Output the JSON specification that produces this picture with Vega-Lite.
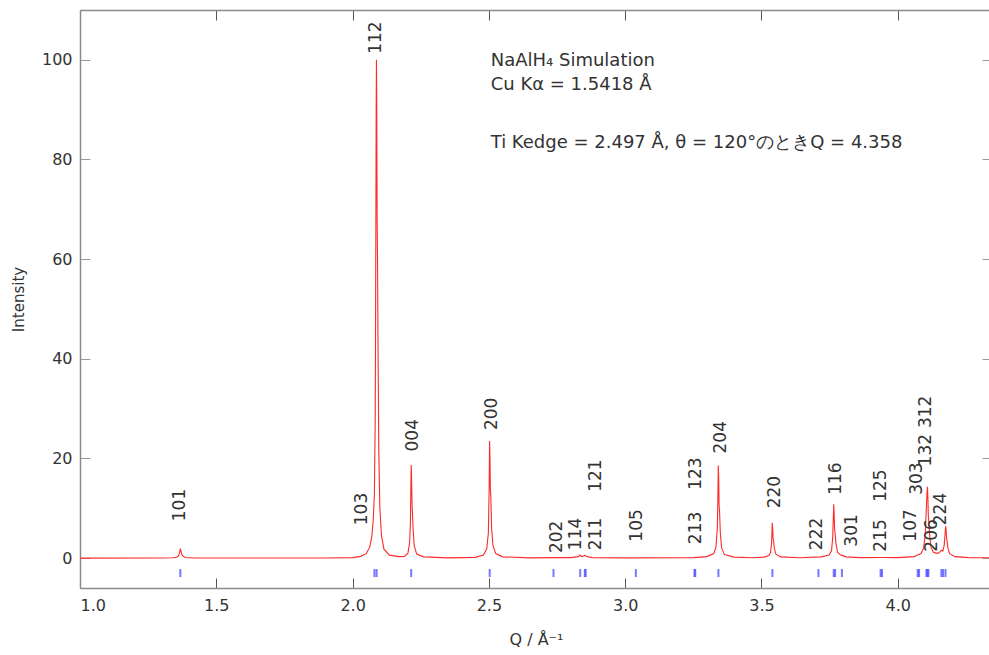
{
  "$schema": "https://vega.github.io/schema/vega-lite/v6.json",
  "width": 912,
  "height": 578,
  "autosize": "none",
  "padding": {"left": 80, "top": 10, "right": 0, "bottom": 67},
  "background": "white",
  "config": {
    "view": {"stroke": null},
    "font": "DejaVu Sans",
    "axis": {
      "grid": false,
      "domainColor": "#8a8a8a",
      "domainWidth": 1.5,
      "tickColor": "#555",
      "tickWidth": 1,
      "tickSize": -10,
      "labelFont": "DejaVu Sans",
      "labelFontSize": 16,
      "labelColor": "#333",
      "titleFont": "DejaVu Sans",
      "titleFontWeight": "normal",
      "titleFontSize": 15,
      "titleColor": "#333"
    }
  },
  "datasets": {
    "profile": [
      {"q":1.0,"i":0},{"q":1.30,"i":0.02},{"q":1.34,"i":0.06},{"q":1.355,"i":0.18},{"q":1.362,"i":0.5},{"q":1.366,"i":1.2},{"q":1.368,"i":1.9},{"q":1.370,"i":1.5},{"q":1.373,"i":0.8},{"q":1.378,"i":0.35},{"q":1.388,"i":0.12},{"q":1.42,"i":0.03},{"q":1.9,"i":0.02},
      {"q":2.00,"i":0.1},{"q":2.03,"i":0.35},{"q":2.05,"i":0.9},{"q":2.063,"i":2.2},{"q":2.071,"i":4.5},{"q":2.076,"i":8},{"q":2.080,"i":13},{"q":2.083,"i":28},{"q":2.085,"i":60},{"q":2.0865,"i":90},{"q":2.0875,"i":100},{"q":2.0885,"i":92},{"q":2.090,"i":68},{"q":2.0915,"i":60},{"q":2.093,"i":45},{"q":2.096,"i":22},{"q":2.100,"i":10},{"q":2.106,"i":4.5},{"q":2.115,"i":1.8},{"q":2.135,"i":0.6},{"q":2.17,"i":0.3},
      {"q":2.19,"i":0.35},{"q":2.203,"i":1.0},{"q":2.209,"i":3},{"q":2.212,"i":7},{"q":2.214,"i":15},{"q":2.215,"i":18.7},{"q":2.216,"i":17},{"q":2.218,"i":11},{"q":2.2195,"i":9},{"q":2.222,"i":6},{"q":2.226,"i":2.5},{"q":2.235,"i":0.8},{"q":2.26,"i":0.25},{"q":2.35,"i":0.05},
      {"q":2.45,"i":0.15},{"q":2.48,"i":0.6},{"q":2.492,"i":1.8},{"q":2.498,"i":5},{"q":2.501,"i":14},{"q":2.5025,"i":23.5},{"q":2.504,"i":20},{"q":2.5055,"i":13.5},{"q":2.507,"i":12.6},{"q":2.510,"i":6},{"q":2.515,"i":2.5},{"q":2.525,"i":0.9},{"q":2.55,"i":0.25},{"q":2.65,"i":0.05},
      {"q":2.735,"i":0.1},{"q":2.80,"i":0.1},{"q":2.828,"i":0.3},{"q":2.834,"i":0.6},{"q":2.840,"i":0.3},{"q":2.847,"i":0.4},{"q":2.852,"i":0.6},{"q":2.858,"i":0.3},{"q":2.88,"i":0.1},{"q":3.0,"i":0.05},{"q":3.25,"i":0.1},
      {"q":3.30,"i":0.3},{"q":3.325,"i":0.9},{"q":3.333,"i":2.2},{"q":3.338,"i":6},{"q":3.340,"i":12},{"q":3.3415,"i":18.6},{"q":3.343,"i":16},{"q":3.3445,"i":10.5},{"q":3.346,"i":9.6},{"q":3.349,"i":5},{"q":3.354,"i":2},{"q":3.364,"i":0.7},{"q":3.40,"i":0.2},{"q":3.47,"i":0.08},
      {"q":3.51,"i":0.2},{"q":3.527,"i":0.5},{"q":3.533,"i":1.1},{"q":3.537,"i":3},{"q":3.5395,"i":7.1},{"q":3.541,"i":6},{"q":3.5425,"i":3.8},{"q":3.544,"i":3.6},{"q":3.547,"i":2},{"q":3.553,"i":0.8},{"q":3.57,"i":0.25},{"q":3.64,"i":0.08},
      {"q":3.72,"i":0.25},{"q":3.748,"i":0.6},{"q":3.757,"i":1.5},{"q":3.761,"i":4},{"q":3.7635,"i":8},{"q":3.765,"i":10.8},{"q":3.7665,"i":9},{"q":3.768,"i":6},{"q":3.7695,"i":5.3},{"q":3.773,"i":3},{"q":3.779,"i":1.2},{"q":3.79,"i":0.6},{"q":3.795,"i":0.55},{"q":3.81,"i":0.25},{"q":3.86,"i":0.1},{"q":3.94,"i":0.12},{"q":4.0,"i":0.1},
      {"q":4.06,"i":0.3},{"q":4.073,"i":0.6},{"q":4.085,"i":0.9},{"q":4.095,"i":2},{"q":4.101,"i":5},{"q":4.104,"i":9},{"q":4.107,"i":13},{"q":4.109,"i":14.3},{"q":4.1105,"i":12},{"q":4.112,"i":8.5},{"q":4.1135,"i":7.5},{"q":4.117,"i":4.5},{"q":4.122,"i":2.2},{"q":4.13,"i":1.2},{"q":4.14,"i":1.0},
      {"q":4.15,"i":1.0},{"q":4.160,"i":1.6},{"q":4.165,"i":1.4},{"q":4.170,"i":2.5},{"q":4.173,"i":4.5},{"q":4.1755,"i":6.4},{"q":4.177,"i":5.8},{"q":4.179,"i":4},{"q":4.1805,"i":3.5},{"q":4.184,"i":2},{"q":4.19,"i":0.9},{"q":4.21,"i":0.3},{"q":4.26,"i":0.1},{"q":4.3456,"i":0.05}
    ],
    "refl": [
      {"q":1.368},{"q":2.080},{"q":2.088},{"q":2.215},{"q":2.503},{"q":2.737},{"q":2.835},{"q":2.852},{"q":2.855},{"q":3.039},{"q":3.254},{"q":3.257},{"q":3.342},{"q":3.540},{"q":3.709},{"q":3.765},{"q":3.770},{"q":3.795},{"q":3.937},{"q":3.942},{"q":4.073},{"q":4.078},{"q":4.105},{"q":4.109},{"q":4.112},{"q":4.160},{"q":4.166},{"q":4.175}
    ],
    "labels": [
      {"hkl":"101","q":1.368,"y":7.4},
      {"hkl":"103","q":2.033,"y":6.6},
      {"hkl":"112","q":2.086,"y":101.2},
      {"hkl":"004","q":2.220,"y":21.4},
      {"hkl":"200","q":2.513,"y":25.7},
      {"hkl":"202","q":2.749,"y":1.0},
      {"hkl":"114","q":2.819,"y":1.6},
      {"hkl":"211","q":2.892,"y":1.6},
      {"hkl":"121","q":2.892,"y":13.3},
      {"hkl":"105","q":3.045,"y":3.3},
      {"hkl":"213","q":3.258,"y":2.8},
      {"hkl":"123","q":3.258,"y":13.7},
      {"hkl":"204","q":3.350,"y":21.0},
      {"hkl":"220","q":3.548,"y":10.0},
      {"hkl":"222","q":3.704,"y":1.6},
      {"hkl":"116","q":3.774,"y":12.7},
      {"hkl":"301","q":3.833,"y":2.3},
      {"hkl":"215","q":3.939,"y":1.3},
      {"hkl":"125","q":3.939,"y":11.3},
      {"hkl":"107","q":4.048,"y":3.3},
      {"hkl":"303","q":4.072,"y":12.7},
      {"hkl":"132","q":4.103,"y":18.4},
      {"hkl":"312","q":4.103,"y":26.1},
      {"hkl":"206","q":4.125,"y":1.3},
      {"hkl":"224","q":4.159,"y":6.6}
    ],
    "notes": [
      {"text":"NaAlH₄ Simulation","q":2.5066,"y":99.7},
      {"text":"Cu Kα = 1.5418 Å","q":2.5066,"y":94.9},
      {"text":"Ti Kedge = 2.497 Å, θ = 120°のときQ = 4.358","q":2.5066,"y":83.4}
    ]
  },
  "resolve": {"axis": {"x": "independent", "y": "independent"}},
  "layer": [
    {
      "data": {"name": "profile"},
      "mark": {"type": "line", "color": "#ff2a2a", "strokeWidth": 1.1, "interpolate": "linear"},
      "encoding": {
        "x": {"field": "q", "type": "quantitative",
              "scale": {"domain": [1.0, 4.3456], "nice": false, "zero": false},
              "axis": {"orient": "bottom", "values": [1.0,1.5,2.0,2.5,3.0,3.5,4.0], "format": ".1f", "labelPadding": 19, "title": "Q / Å⁻¹", "titleFontSize": 16, "titlePadding": 18}},
        "y": {"field": "i", "type": "quantitative",
              "scale": {"domain": [-6, 110], "nice": false, "zero": false},
              "axis": {"orient": "left", "values": [0,20,40,60,80,100], "tickColor": "#999", "labelPadding": 18, "title": "Intensity", "titlePadding": 15}}
      }
    },
    {
      "data": {"name": "refl"},
      "mark": {"type": "tick", "orient": "vertical", "color": "#4a4aff", "opacity": 0.75, "thickness": 2, "size": 8},
      "encoding": {
        "x": {"field": "q", "type": "quantitative", "axis": null},
        "y": {"datum": -3, "type": "quantitative", "axis": null}
      }
    },
    {
      "data": {"name": "labels"},
      "mark": {"type": "text", "angle": 270, "align": "left", "baseline": "middle", "fontSize": 17, "color": "#333", "font": "DejaVu Sans"},
      "encoding": {
        "x": {"field": "q", "type": "quantitative", "axis": null},
        "y": {"field": "y", "type": "quantitative", "axis": null},
        "text": {"field": "hkl"}
      }
    },
    {
      "data": {"name": "notes"},
      "mark": {"type": "text", "align": "left", "baseline": "middle", "fontSize": 18, "color": "#333", "font": "DejaVu Sans"},
      "encoding": {
        "x": {"field": "q", "type": "quantitative",
              "axis": {"orient": "top", "values": [1.0,1.5,2.0,2.5,3.0,3.5,4.0], "labels": false, "title": null}},
        "y": {"field": "y", "type": "quantitative",
              "axis": {"orient": "right", "values": [0,20,40,60,80,100], "domain": false, "tickColor": "#999", "labels": false, "title": null}},
        "text": {"field": "text"}
      }
    }
  ]
}
